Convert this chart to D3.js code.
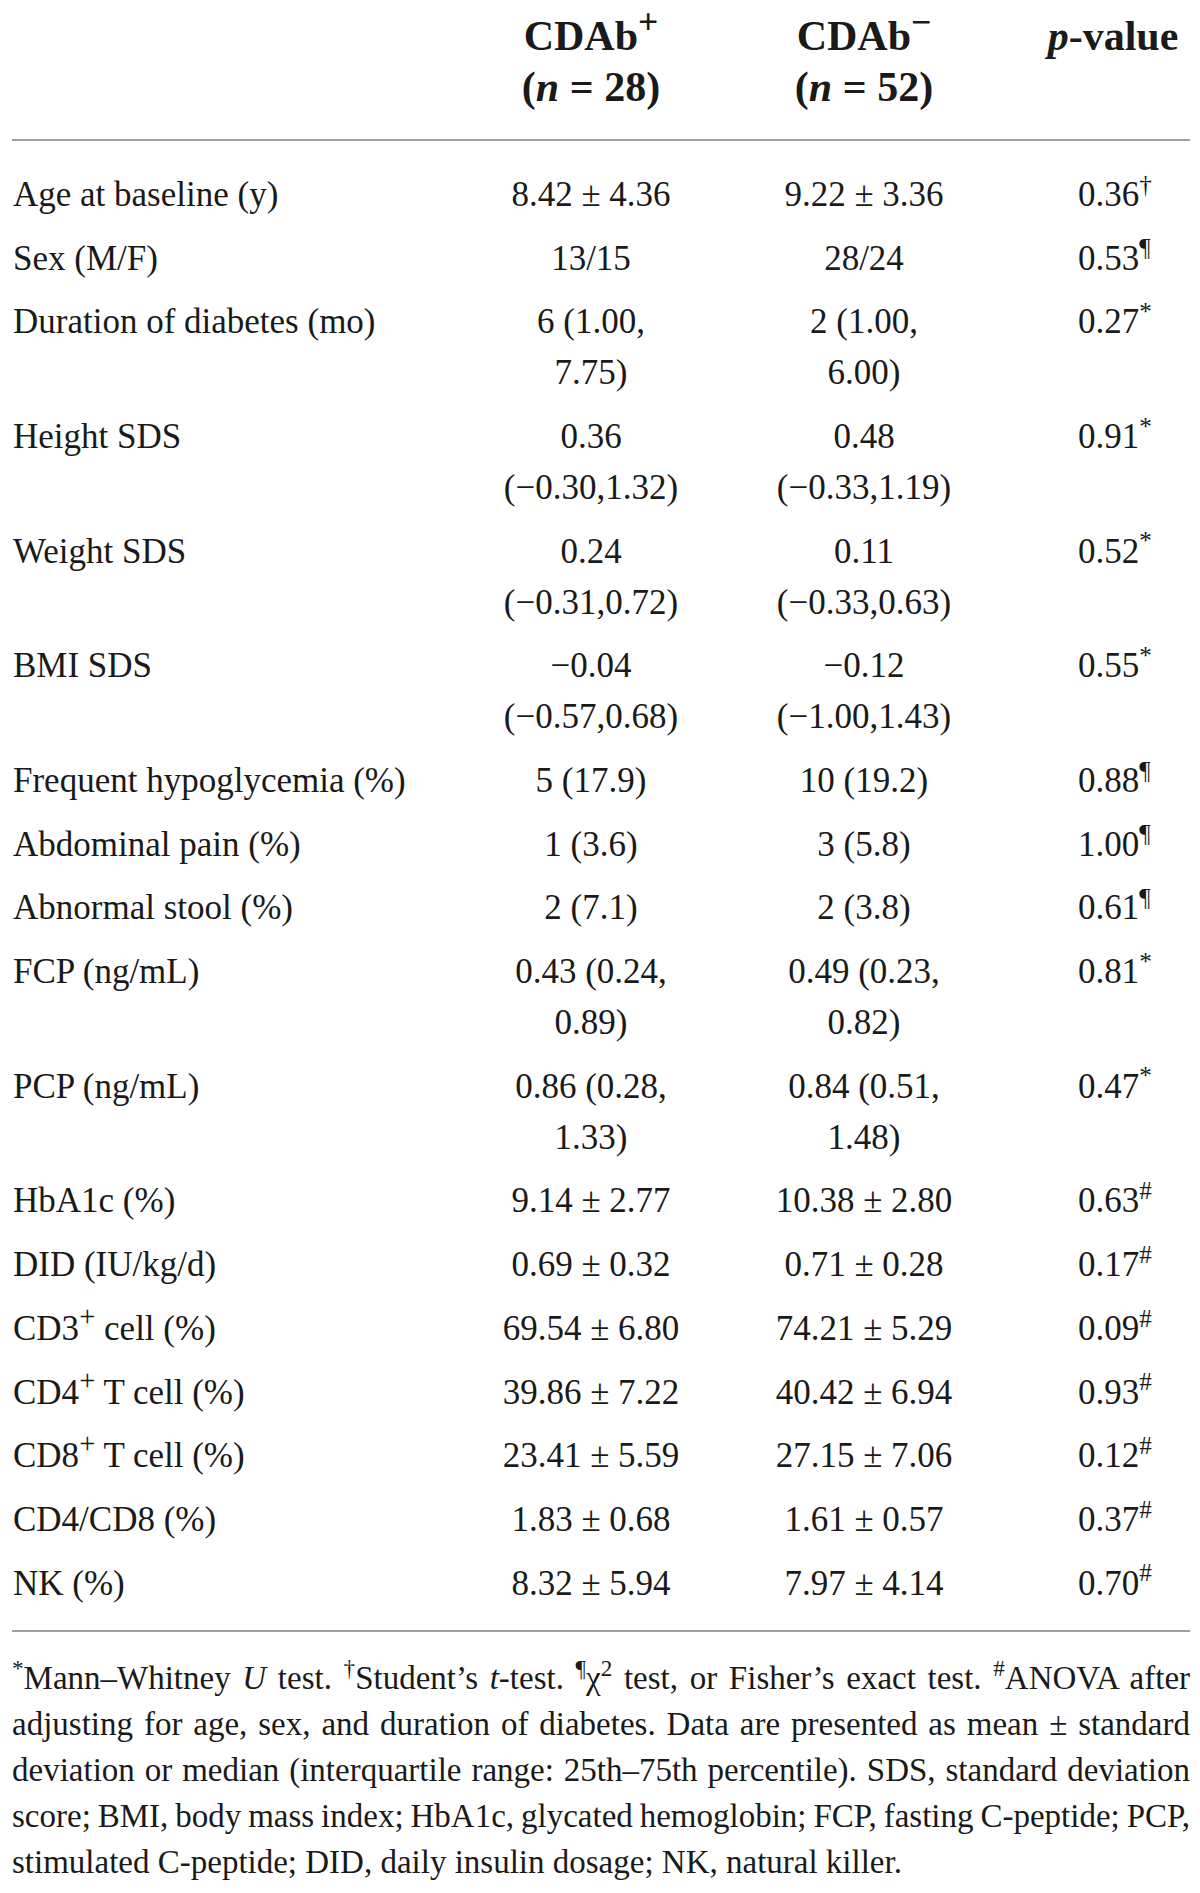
<!DOCTYPE html>
<html>
<head>
<meta charset="utf-8">
<script src="https://cdn.jsdelivr.net/npm/d3@7/dist/d3.min.js"></script>
<style>
  html, body { margin: 0; padding: 0; background: #ffffff; }
  svg { display: block; }
  text { font-family: "Liberation Serif", "DejaVu Serif", serif; fill: #1a1a1a; }
</style>
</head>
<body>
<svg id="chart" width="1200" height="1893"></svg>
<script>
// ---------- DATA ----------
const headers = [
  { col: "pos", lines: ["CDAb^+^", "(_n_ = 28)"] },
  { col: "neg", lines: ["CDAb^−^", "(_n_ = 52)"] },
  { col: "p",   lines: ["_p_-value"] }
];

const rowLabels = [
  "Age at baseline (y)", "Sex (M/F)", "Duration of diabetes (mo)", "Height SDS",
  "Weight SDS", "BMI SDS", "Frequent hypoglycemia (%)", "Abdominal pain (%)",
  "Abnormal stool (%)", "FCP (ng/mL)", "PCP (ng/mL)", "HbA1c (%)",
  "DID (IU/kg/d)", "CD3^+^ cell (%)", "CD4^+^ T cell (%)", "CD8^+^ T cell (%)",
  "CD4/CD8 (%)", "NK (%)"
];

const posValues = [
  ["8.42 ± 4.36"], ["13/15"], ["6 (1.00,", "7.75)"], ["0.36", "(−0.30,1.32)"],
  ["0.24", "(−0.31,0.72)"], ["−0.04", "(−0.57,0.68)"], ["5 (17.9)"], ["1 (3.6)"],
  ["2 (7.1)"], ["0.43 (0.24,", "0.89)"], ["0.86 (0.28,", "1.33)"], ["9.14 ± 2.77"],
  ["0.69 ± 0.32"], ["69.54 ± 6.80"], ["39.86 ± 7.22"], ["23.41 ± 5.59"],
  ["1.83 ± 0.68"], ["8.32 ± 5.94"]
];

const negValues = [
  ["9.22 ± 3.36"], ["28/24"], ["2 (1.00,", "6.00)"], ["0.48", "(−0.33,1.19)"],
  ["0.11", "(−0.33,0.63)"], ["−0.12", "(−1.00,1.43)"], ["10 (19.2)"], ["3 (5.8)"],
  ["2 (3.8)"], ["0.49 (0.23,", "0.82)"], ["0.84 (0.51,", "1.48)"], ["10.38 ± 2.80"],
  ["0.71 ± 0.28"], ["74.21 ± 5.29"], ["40.42 ± 6.94"], ["27.15 ± 7.06"],
  ["1.61 ± 0.57"], ["7.97 ± 4.14"]
];

const pValues = [
  "0.36", "0.53", "0.27", "0.91", "0.52", "0.55", "0.88", "1.00", "0.61",
  "0.81", "0.47", "0.63", "0.17", "0.09", "0.93", "0.12", "0.37", "0.70"
];
const pMarks = [
  "†", "¶", "*", "*", "*", "*", "¶", "¶", "¶",
  "*", "*", "#", "#", "#", "#", "#", "#", "#"
];

const footnoteLines = [
  "^*^Mann–Whitney _U_ test. ^†^Student’s _t_-test. ^¶^χ^2^ test, or Fisher’s exact test. ^#^ANOVA after",
  "adjusting for age, sex, and duration of diabetes. Data are presented as mean ± standard",
  "deviation or median (interquartile range: 25th–75th percentile). SDS, standard deviation",
  "score; BMI, body mass index; HbA1c, glycated hemoglobin; FCP, fasting C-peptide; PCP,",
  "stimulated C-peptide; DID, daily insulin dosage; NK, natural killer."
];

// ---------- LAYOUT ----------
const svg = d3.select("#chart");

const bodySize = 35, headSize = 42, footSize = 33;
const wrapFrac = 0.8;         // wrapped line spacing relative to row pitch

const colX = d3.scaleOrdinal().domain(["label", "pos", "neg", "p"]).range([13, 591, 864, 1078]);
const colAnchor = { label: "start", pos: "middle", neg: "middle", p: "start" };

const rowLines = rowLabels.map((_, i) => Math.max(posValues[i].length, negValues[i].length));
const rowOffsets = [];
let acc = 0;
rowLines.forEach(n => { rowOffsets.push(acc); acc += 1 + (n - 1) * wrapFrac; });
const y = d3.scaleLinear().domain([0, 1]).range([206, 206 + 63.7]);

// rich text helper: ^sup^ and _italic_
function rich(sel, str, supSize = "0.72em", supRise = 0.42) {
  const parts = str.split(/(\^[^^]*\^|_[^_]*_)/).filter(s => s.length);
  let inSup = false;
  parts.forEach(p => {
    if (p.startsWith("^")) {
      sel.append("tspan").attr("font-size", supSize).attr("dy", (-supRise / parseFloat(supSize)).toFixed(3) + "em").text(p.slice(1, -1));
      inSup = true;
    } else {
      const t = sel.append("tspan");
      if (inSup) { t.attr("dy", supRise + "em"); inSup = false; }
      if (p.startsWith("_")) t.attr("font-style", "italic").text(p.slice(1, -1));
      else t.text(p);
    }
  });
}

// ---------- HEADER ----------
const headBase = [50, 101];
headers.forEach(h => {
  h.lines.forEach((ln, li) => {
    const t = svg.append("text")
      .attr("x", h.col === "p" ? 1113 : colX(h.col))
      .attr("y", headBase[li])
      .attr("text-anchor", "middle")
      .attr("font-weight", "bold")
      .attr("font-size", headSize);
    rich(t, ln, "0.85em", 0.38);
  });
});

// rules
const ruleColor = "#a0a0a0";
svg.append("line").attr("x1", 12).attr("x2", 1190).attr("y1", 140).attr("y2", 140)
  .attr("stroke", ruleColor).attr("stroke-width", 2);
svg.append("line").attr("x1", 12).attr("x2", 1190).attr("y1", 1631).attr("y2", 1631)
  .attr("stroke", ruleColor).attr("stroke-width", 2);

// ---------- BODY ----------
const rows = svg.append("g").selectAll("g.row").data(rowLabels).join("g").attr("class", "row");

rows.each(function (label, i) {
  const g = d3.select(this);
  const y0 = y(rowOffsets[i]);
  const lineStep = y(wrapFrac) - y(0);

  const tl = g.append("text").attr("x", colX("label")).attr("y", y0)
    .attr("text-anchor", colAnchor.label).attr("font-size", bodySize);
  rich(tl, label, "0.82em", 0.4);

  [["pos", posValues[i]], ["neg", negValues[i]]].forEach(([c, vals]) => {
    vals.forEach((v, li) => {
      g.append("text").attr("x", colX(c)).attr("y", y0 + li * lineStep)
        .attr("text-anchor", colAnchor[c]).attr("font-size", bodySize).text(v);
    });
  });

  const tp = g.append("text").attr("x", colX("p")).attr("y", y0)
    .attr("text-anchor", colAnchor.p).attr("font-size", bodySize);
  rich(tp, pValues[i] + "^" + pMarks[i] + "^", "0.72em", 0.38);
});

// ---------- FOOTNOTE ----------
const fy = d3.scaleLinear().domain([0, 1]).range([1689, 1735]);
footnoteLines.forEach((ln, i) => {
  const t = svg.append("text").attr("x", 12).attr("y", fy(i)).attr("font-size", footSize);
  rich(t, ln, "0.7em", 0.4);
  if (i < footnoteLines.length - 1) {
    const natural = t.node().getComputedTextLength();
    const plain = ln.replace(/[\^_]/g, "");
    const spaces = (plain.match(/ /g) || []).length;
    const target = 1190 - 12;
    if (spaces > 0) t.attr("word-spacing", ((target - natural) / spaces).toFixed(2));
  }
});
</script>
</body>
</html>
